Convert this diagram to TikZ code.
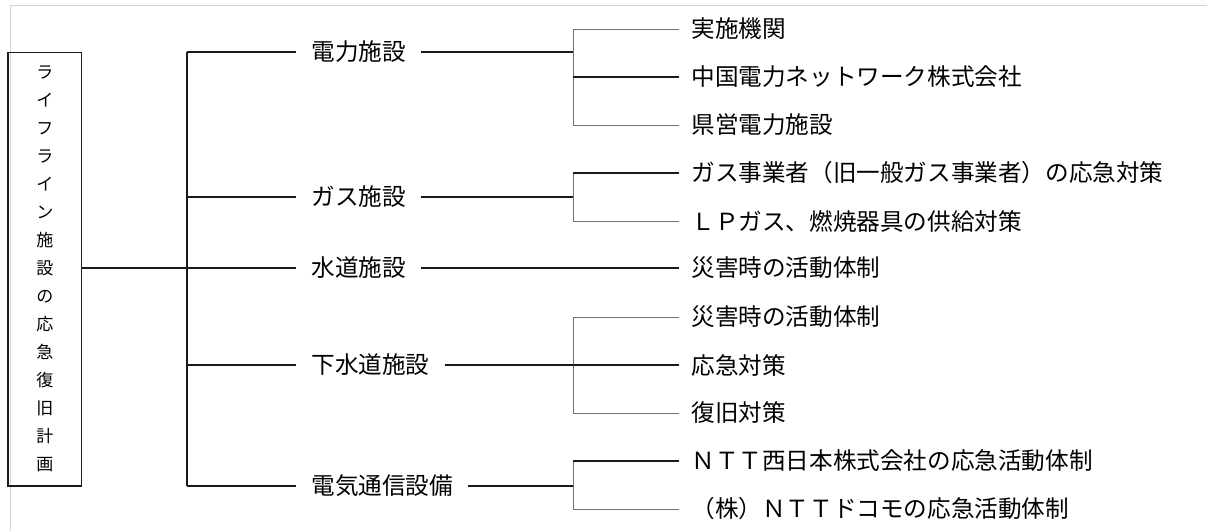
\documentclass[tikz,border=0pt]{standalone}
\usepackage{fontspec}
\setmainfont{Noto Sans CJK JP}
\definecolor{rlInk}{HTML}{1A1A1A}
\definecolor{rlThin}{HTML}{707070}
\definecolor{rlFrame}{HTML}{D2D2D2}
\usetikzlibrary{positioning,calc}

\begin{document}
\begin{tikzpicture}[
  x=0.5pt,y=-0.5pt,
  font=\fontsize{11.8}{14}\selectfont,
  root/.style={draw=rlInk,line width=0.7pt,minimum width=36.8pt,minimum height=216.8pt,
               inner sep=0pt,align=center,font=\fontsize{8.5}{14}\selectfont},
  grp/.style={anchor=west,inner xsep=7.5pt,inner ysep=0pt},
  leaf/.style={anchor=west,inner xsep=6pt,inner ysep=0pt},
  trunk/.style={draw=rlInk,line width=0.75pt},
  twig/.style={draw=rlThin,line width=0.45pt}
]
\useasboundingbox (0,0) rectangle (1207,531);
% page frame
\draw[rlFrame,line width=0.5pt] (10,531) -- (10,5) -- (1207,5);
% root box
\node[root] (root) at (44.8,269) {ラ\\イ\\フ\\ラ\\イ\\ン\\施\\設\\の\\応\\急\\復\\旧\\計\\画};
% facility groups
\node[grp] (denryoku) at (296,52) {電力施設};
\node[grp] (gas) at (296,197) {ガス施設};
\node[grp] (suido) at (296,268) {水道施設};
\node[grp] (gesui) at (296,365) {下水道施設};
\node[grp] (tsushin) at (296,486) {電気通信設備};
\coordinate (tTop) at (187,52);
\coordinate (tBot) at (187,486);
\draw[trunk] (tTop) -- (tBot);
\draw[trunk] (root.east |- suido.west) -- (suido.west);
\draw[trunk] (tTop) -- (denryoku.west);
\draw[trunk] (tTop |- gas.west) -- (gas.west);
\draw[trunk] (tTop |- gesui.west) -- (gesui.west);
\draw[trunk] (tBot) -- (tsushin.west);
% electric power
\node[leaf] (d1) at (679,29) {実施機関};
\node[leaf] (d2) at (679,77) {中国電力ネットワーク株式会社};
\node[leaf] (d3) at (679,125) {県営電力施設};
\coordinate (jd) at (573,52);
\draw[trunk] (denryoku.east) -- (jd);
\draw[twig] (jd |- d1.west) -- (jd |- d3.west);
\draw[twig] (jd |- d1.west) -- (d1.west);
\draw[trunk] (jd |- d2.west) -- (d2.west);
\draw[twig] (jd |- d3.west) -- (d3.west);
% gas
\node[leaf] (g1) at (679,173) {ガス事業者（旧一般ガス事業者）の応急対策};
\node[leaf] (g2) at (679,221) {ＬＰガス、燃焼器具の供給対策};
\coordinate (jg) at (573,197);
\draw[trunk] (gas.east) -- (jg);
\draw[twig] (jg |- g1.west) -- (jg |- g2.west);
\draw[trunk] (jg |- g1.west) -- (g1.west);
\draw[twig] (jg |- g2.west) -- (g2.west);
% water
\node[leaf] (s1) at (679,268) {災害時の活動体制};
\draw[trunk] (suido.east) -- (s1.west);
% sewer
\node[leaf] (w1) at (679,317) {災害時の活動体制};
\node[leaf] (w2) at (679,365) {応急対策};
\node[leaf] (w3) at (679,413) {復旧対策};
\coordinate (jw) at (573,365);
\draw[twig] (jw |- w1.west) -- (jw |- w3.west);
\draw[twig] (jw |- w1.west) -- (w1.west);
\draw[trunk] (gesui.east) -- (w2.west);
\draw[twig] (jw |- w3.west) -- (w3.west);
% telecom
\node[leaf] (t1) at (679,461) {ＮＴＴ西日本株式会社の応急活動体制};
\node[leaf] (t2) at (679,509) {（株）ＮＴＴドコモの応急活動体制};
\coordinate (jt) at (573,486);
\draw[trunk] (tsushin.east) -- (jt);
\draw[twig] (jt |- t1.west) -- (jt |- t2.west);
\draw[trunk] (jt |- t1.west) -- (t1.west);
\draw[twig] (jt |- t2.west) -- (t2.west);
\end{tikzpicture}
\end{document}
